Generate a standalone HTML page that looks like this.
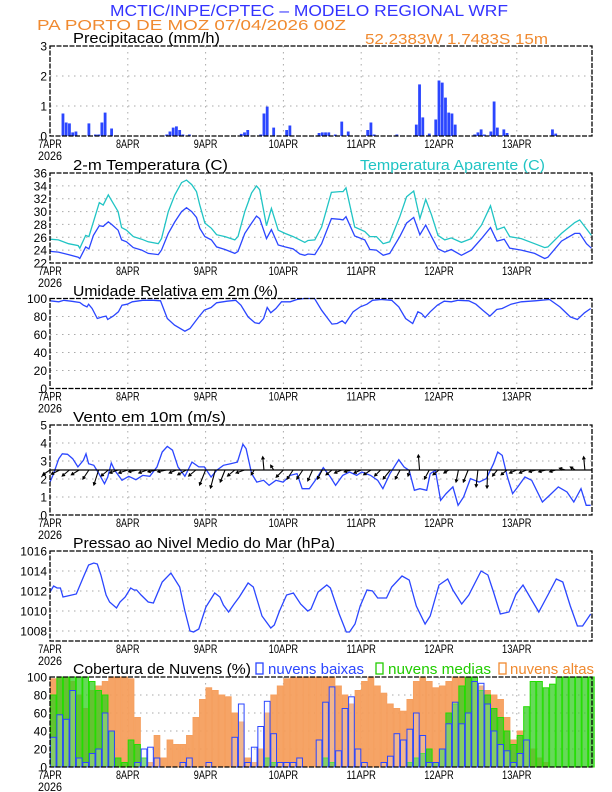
<!DOCTYPE html>
<html><head><meta charset="utf-8"><style>
html,body{margin:0;padding:0;background:#fff;}
svg{display:block;font-family:"Liberation Sans",sans-serif;}
</style></head><body>
<svg id="chart" width="612" height="792" viewBox="0 0 612 792" xmlns="http://www.w3.org/2000/svg">
<text x="110" y="16" textLength="398" lengthAdjust="spacingAndGlyphs" font-size="16" fill="#3333ff">MCTIC/INPE/CPTEC – MODELO REGIONAL WRF</text>
<text x="37" y="30" textLength="309" lengthAdjust="spacingAndGlyphs" font-size="15" fill="#f08a30">PA PORTO DE MOZ    07/04/2026 00Z</text>
<text x="365" y="44" textLength="183" lengthAdjust="spacingAndGlyphs" font-size="15" fill="#f08a30">52.2383W 1.7483S 15m</text>
<g id="g"></g>
</svg>
<script>
// ---- data ----
const dayLabels = ["7APR","8APR","9APR","10APR","11APR","12APR","13APR"];
const precipHours = [4,5,6,7,8,12,14,15,16,17,19,36,37,38,39,40,41,43,59,60,61,65,66,67,69,73,74,83,84,85,86,88,90,92,98,99,100,107,113,114,115,117,119,120,121,122,123,124,125,131,132,133,134,136,137,138,140,141,155,156];
const precipVals  = [0.75,0.45,0.42,0.12,0.15,0.42,0.05,0.05,0.45,0.78,0.25,0.05,0.15,0.28,0.32,0.2,0.05,0.05,0.07,0.12,0.2,0.05,0.75,0.98,0.28,0.2,0.35,0.1,0.12,0.12,0.12,0.05,0.48,0.15,0.2,0.45,0.05,0.05,0.38,1.72,0.62,0.08,0.55,1.85,1.78,1.28,0.78,0.75,0.38,0.05,0.12,0.22,0.05,0.15,1.15,0.28,0.22,0.1,0.22,0.08];
const tempHours = [0,2.6,5.7,8.7,9.2,11,12,13.4,15.2,16.4,18,19,21,22.1,23.6,25.7,28.3,30.3,33.4,34.4,36.5,38.5,40.6,42.1,43.7,45.2,46.2,47.8,49.8,51.4,54,57,58,60.1,62.2,63.7,64.7,66.8,68.3,70.4,72.5,75,77.1,78.6,79.6,81.7,83.8,86.8,89.4,90.4,91.3,94,97.1,98.7,100.7,102.8,104.8,107.9,110,112.2,114.1,115.9,117.7,119.7,121.8,123.8,126.9,130,133.1,135.9,137.9,140.1,141.8,145.4,149.5,152.6,153.6,157.8,161.9,163.4,165.5,167];
const tempVals = [23.8,23.7,23.3,22.9,22.7,24.5,24.2,26.3,27.8,27.7,28.4,28.0,27.1,25.6,25.3,24.4,24.0,23.5,23.3,24.0,26.6,28.4,30.0,30.6,30.0,29.1,27.4,26.1,25.6,24.5,24.1,23.5,23.8,26.6,28.2,29.3,28.9,25.8,27.2,24.8,24.5,24.2,23.4,23.2,23.4,23.3,25.0,28.9,28.8,28.7,29.2,26.2,25.6,24.1,24.0,23.2,23.5,26.1,28.2,29.1,26.4,27.9,26.1,24.2,23.7,24.1,23.2,24.0,25.8,27.5,25.4,25.7,24.3,24.0,23.5,22.7,22.9,25.4,26.6,26.6,25.0,24.3];
const apparentVals = [25.7,25.6,25.0,24.7,24.3,26.3,26.1,28.4,31.4,31.0,32.6,31.7,30.0,27.5,27.1,26.1,25.7,25.3,25.0,25.8,30.0,32.6,34.5,34.9,34.2,33.1,31.0,28.2,27.4,26.4,26.1,25.6,26.1,30.0,32.9,34.0,33.4,27.8,30.5,27.1,26.6,26.1,25.6,25.2,25.5,25.6,27.6,33.0,33.1,33.1,33.7,27.6,26.9,26.1,26.1,25.0,25.3,29.2,32.3,33.2,28.9,31.9,29.5,26.3,25.6,25.9,25.2,25.8,27.9,30.9,27.2,27.6,26.1,25.8,25.0,24.4,24.5,26.6,28.3,28.7,27.3,26.3];
const rhHours = [0,2.7,4.3,6.5,9.2,10.3,11.4,11.9,13,14.6,16.2,17.3,17.8,19.5,21.1,22.2,23.8,25.4,28.6,31.9,34.1,36.2,38.4,41.6,43.2,45.9,47.6,49.7,51.4,54.6,57.3,58.9,61.1,63.2,64.5,65.9,67,68.1,69.7,71.4,74.1,76.2,78.4,81.6,83.8,87,88.6,90.1,91.1,93.5,95.7,97.8,99.5,102.2,105.4,107.6,109.7,111.9,113.5,114.6,115.7,117.3,119.5,121.6,123.8,125.9,129.2,131.4,133.5,135.7,137.8,139.5,142.2,145.4,149.7,154.1,157.3,160.5,162.7,164.9,166.8];
const rhVals = [97.4,96.3,98,97,95.6,92.6,90.7,93.7,88.9,77.8,79.6,80.4,76.7,80.4,85.2,92.6,93.7,96.3,98,98,97.4,77.8,70.4,63.7,66.7,79.6,87,90,95.2,97,98,92.6,79.6,73,72.2,77.8,90,84.1,88.9,96.3,96.3,98.9,100,100,87,71.5,72.2,75.2,72.2,85.2,90.7,93.7,98,98.9,98,90.7,77.8,72.2,85.2,83.3,78.9,85.2,92.6,97,96.3,98,97.4,93.7,87,80.4,87.8,88.9,93.7,96.3,97.4,98.9,90.7,79.6,76.7,84.1,88.9];
const windHours = [0,1.1,2.7,3.8,5.4,7,8.6,10.3,11.1,11.9,13.5,15.1,16.8,17.8,18.9,20,22.2,24.3,26.5,28.6,30.8,33,34.6,36.2,37.8,39.5,41.6,43.8,45.9,47.6,49.7,51.4,53.5,55.7,57.8,59.5,60.5,62.2,63.8,65.9,67.6,69.7,71.9,74.1,76.2,77.8,80,82.2,84.3,86.5,88.1,90.3,92.4,94.6,96.2,98.9,101.1,102.7,104.9,106.5,107.6,109.2,110.8,112.4,114.1,116.2,117.3,118.9,120.5,122.2,124.3,125.9,127.6,129.7,132.4,134.6,136.8,138.1,139.5,141.1,142.7,144.3,146.5,148.6,151.9,154.1,156.8,159.5,161.6,163.8,165.4,166.8];
const windVals = [1.83,2.3,3.13,3.4,3.37,3.13,2.67,3.04,3.4,2.85,2.76,2.3,1.74,2.1,2.89,2.48,1.93,2.15,1.96,2.2,2.15,2.67,3.5,3.81,3.6,2.67,2.15,2.94,2.67,2.67,2.11,2.48,2.76,2.85,2.94,3.93,3.69,2.3,1.83,1.93,1.65,1.93,1.83,2.2,2.3,1.46,1.46,2.02,2.63,2.11,1.65,2.2,2.39,2.2,2.39,2.2,1.93,1.46,2.3,2.76,3.07,2.67,2.48,1.37,1.46,1.37,2.3,2.48,0.81,1.19,1.56,0.54,1.0,2.02,1.83,2.02,2.85,3.5,3.31,2.11,1.19,1.56,2.11,1.93,0.72,1.09,1.56,1.28,0.72,1.46,0.54,0.54];
const vecHours = [0,3,6,9,12,15,18,21,24,27,30,33,36,39,42,45,48,51,54,57,60,63,66,69,72,75,78,81,84,87,90,93,96,99,102,105,108,111,114,117,120,123,126,129,132,135,138,141,144,147,150,153,156,159,162,165];
const vecU = [-1.2,-1.4,-1.2,-1.3,-1,-0.8,-1.2,-1.4,-1.5,-1.5,-1.4,-1.5,-1.5,-1.2,-1.4,-1.2,-1,-0.8,-0.8,-1.2,-1.4,-0.5,-0.2,-0.5,-1.2,-1,-1,-0.8,-0.8,-1,-1.2,-1.2,-1.2,-1.2,-1,-1.2,-0.8,-0.3,-0.2,-0.8,-1,-0.8,-0.4,-0.8,-0.3,-0.1,-0.8,-1,-1.2,-1.2,-1.2,-1.2,-1,-1,-0.8,-0.2];
const vecV = [-0.8,-0.7,-1,-0.8,-1.5,-2.5,-1,-0.5,-0.5,-0.3,-0.5,-0.3,-0.3,-0.5,-0.8,-1,-2.5,-3,-2,-1,-0.5,-0.8,2.2,0.8,-1.2,-1.5,-1.5,-1.8,-1.5,-0.8,-0.5,-0.3,-0.5,-0.8,-1,-1.5,-1.5,-1,2.5,-1.5,-0.8,-0.5,-2,-2,-2.8,-3,-1,-0.8,-0.5,-0.5,-0.3,-0.3,-0.3,0.3,0.5,2.2];
const presHours = [0,1.1,2.2,3.2,4,5.4,8.1,10.3,11.9,13.5,14.6,15.7,17.3,18.4,20.5,21.6,23.2,24.9,25.9,26.7,28.1,30.3,31.9,34.6,37.3,40,41.6,43.2,44.3,45.9,48.1,50.8,52.4,53.5,55.1,56.8,58.4,61.1,62.7,65.4,68.1,69.2,70.8,73,75.1,77.3,79.5,80.5,82.7,85.4,86.5,89.2,91.4,92.4,94.1,95.7,97.8,99.5,101.1,103.8,105.4,108.6,110.8,113,115.7,117.3,120,122.7,124.3,127,129.2,133,135.1,136.8,138.9,141.6,143.8,145.9,148.6,150.8,154.1,156.2,158.2,160.5,162.7,164.3,166.8];
const presVals = [1011.9,1012.5,1012.3,1012.3,1011.4,1011.5,1011.7,1013.4,1014.6,1014.8,1014.7,1013.6,1011.6,1010.9,1010.3,1010.9,1011.4,1012.3,1012.1,1012.1,1011.6,1010.9,1010.8,1012.9,1013.8,1012.4,1010,1008,1007.9,1008.2,1010.4,1011.8,1011.4,1010.6,1009.9,1010.7,1011.4,1012.8,1012.4,1009.5,1008.3,1008.6,1010,1011.6,1011.8,1010.7,1010,1010.2,1011.9,1012.6,1012.3,1009.7,1007.9,1007.9,1008.7,1010.5,1012.1,1012,1011.3,1011.3,1012.4,1013.5,1013.1,1010.5,1008.7,1009.5,1012.6,1013.2,1012.1,1010.7,1011.6,1014,1013.6,1011.9,1009.7,1009.9,1011.7,1012.6,1011.1,1009.9,1011.9,1013.2,1012.9,1010.5,1008.5,1008.5,1009.7];
const cloudHigh = [98,100,100,95,80,65,85,90,95,100,100,100,98,55,0,5,35,10,30,25,25,35,55,75,88,85,80,78,60,50,10,5,20,60,80,90,98,100,100,100,100,100,100,100,90,80,70,85,95,100,90,82,70,65,62,75,95,100,95,88,90,95,100,100,100,95,90,85,80,75,55,30,40,30,20,10,5,0,0,0,0,0,0,0];
const cloudMid = [80,100,100,100,100,100,95,85,80,40,10,5,30,25,10,0,0,0,0,0,0,0,0,0,0,0,0,0,0,0,0,0,0,10,5,0,0,0,0,0,0,0,10,5,0,0,0,0,0,0,0,0,0,0,0,5,10,15,20,5,20,60,70,90,100,100,85,80,65,55,40,25,35,67,95,95,88,92,100,100,100,100,100,100];
const cloudLow = [33,58,53,85,10,5,15,20,60,40,0,0,0,5,20,22,10,0,0,0,5,10,0,0,5,0,0,0,33,70,5,22,45,73,37,5,5,5,10,0,0,30,72,89,18,65,78,20,5,0,0,5,12,37,30,42,60,35,5,5,20,48,72,48,60,95,93,70,40,25,18,5,15,30,0,0,0,0,0,0,0,0,0,0];

// ---- layout ----
const L=50, R=592, PH=90;
const tops=[46,173,298.5,425,551,677];
const x = h => L + h*(R-L)/167.2;
const NS="http://www.w3.org/2000/svg";
const G=document.getElementById('g');
function mk(tag, at, parent){const e=document.createElementNS(NS,tag);for(const k in at)e.setAttribute(k,at[k]);(parent||G).appendChild(e);return e;}
function lin(min,max,top){return v=>top+PH-(v-min)/(max-min)*PH;}

const panels=[
 {name:'precip',min:0,max:3,ticks:[0,1,2,3]},
 {name:'temperature',min:22,max:36,ticks:[22,24,26,28,30,32,34,36]},
 {name:'humidity',min:0,max:100,ticks:[0,20,40,60,80,100]},
 {name:'wind',min:0,max:5,ticks:[0,1,2,3,4,5]},
 {name:'pressure',min:1007,max:1016,ticks:[1008,1010,1012,1014,1016]},
 {name:'clouds',min:0,max:100,ticks:[0,20,40,60,80,100]}
];
const Y=[];
panels.forEach((p,i)=>{
  const t=tops[i]; const y=lin(p.min,p.max,t); Y.push(y);
  const g=mk('g',{});
  
  
  p.ticks.forEach(v=>{
    if(v>p.min && v<p.max){const gl=mk('line',{x1:L,x2:R,y1:y(v),y2:y(v),stroke:'#aaa','stroke-width':1,'stroke-dasharray':'1.5,4.5'},g);
      
      }
    const tl=mk('text',{x:L-3,y:y(v)+4.5,'text-anchor':'end','font-size':12,fill:'#000'},g);
    
    
    tl.textContent=v;
  });
  for(let d=1;d<7;d++){const gl=mk('line',{x1:x(d*24),x2:x(d*24),y1:t,y2:t+PH,stroke:'#aaa','stroke-width':1,'stroke-dasharray':'1.5,4.5'},g);
    
    }
  dayLabels.forEach((lab,d)=>{
    const tx=mk('text',{x:x(d*24),y:t+PH+12,'text-anchor':'middle','font-size':12,fill:'#000',textLength:lab.length*5.9,lengthAdjust:'spacingAndGlyphs'},g);
    
    
    tx.textContent=lab;
  });
  const yr=mk('text',{x:38,y:t+PH+24,'font-size':12,fill:'#000',textLength:24,lengthAdjust:'spacingAndGlyphs'},g);
  
  
  yr.textContent='2026';
  p.g=g;
});

// precipitation
precipHours.forEach((h,i)=>{
  const y=Y[0]; const b=mk('rect',{x:x(h)-1.4,y:y(precipVals[i]),width:2.8,height:y(0)-y(precipVals[i]),fill:'#2b46ff'});
  
  
});
function line(hs,vs,y,col,name){
  const d=hs.map((h,i)=>(i?'L':'M')+x(h).toFixed(1)+','+y(vs[i]).toFixed(1)).join('');
  const p=mk('path',{d:d,fill:'none',stroke:col,'stroke-width':1.3});
  
  
}
line(tempHours,apparentVals,Y[1],'#20c4c4','apparent-temperature-line');
line(tempHours,tempVals,Y[1],'#2b46ff','temperature-line');
line(rhHours,rhVals,Y[2],'#2b46ff','humidity-line');
line(windHours,windVals,Y[3],'#2b46ff','wind-speed-line');
// wind vectors
vecHours.forEach((h,i)=>{
  const x0=x(h), y0=Y[3](2.5), k=6;
  const x1=x0+vecU[i]*k, y1=y0-vecV[i]*k;
  const a=Math.atan2(y1-y0,x1-x0);
  const ax1=x1-3*Math.cos(a-0.5), ay1=y1-3*Math.sin(a-0.5), ax2=x1-3*Math.cos(a+0.5), ay2=y1-3*Math.sin(a+0.5);
  const v=mk('path',{d:`M${x0},${y0}L${x1},${y1}M${ax1},${ay1}L${x1},${y1}L${ax2},${ay2}`,stroke:'#000','stroke-width':1.1,fill:'none'});
  
  
});
const wb=mk('line',{x1:L,x2:R,y1:Y[3](2.5),y2:Y[3](2.5),stroke:'#000','stroke-width':1.2});


line(presHours,presVals,Y[4],'#2b46ff','pressure-line');
// clouds
function bars(vals,fill,stroke,op,name){
  vals.forEach((v,i)=>{
    if(v<=0) return;
    const h=i*2, y=Y[5];
    const b=mk('rect',{x:x(h)+0.4,y:y(v),width:x(2)-x(0)-0.8,height:y(0)-y(v),fill:fill,'fill-opacity':op,stroke:stroke,'stroke-width':1});
    
    
  });
}
bars(cloudHigh,'#f59a55','#f5a060',0.9,'high-cloud-bar');
bars(cloudMid,'#33cc22','#22dd00',0.75,'mid-cloud-bar');
bars(cloudLow,'#e8ecff','#2b46ff',0.25,'low-cloud-bar');

// frames
tops.forEach((t,i)=>{
  const f=mk('rect',{x:L,y:t,width:R-L,height:PH,fill:'none',stroke:'#000','stroke-width':1.3,'stroke-dasharray':'5,1.5'});
  
  
});
// titles
const titles=[
 ['precip-title','Precipitacao (mm/h)',73,43,147,'#000'],
 ['temperature-title','2-m Temperatura (C)',73,170,155,'#000'],
 ['apparent-temperature-title','Temperatura Aparente (C)',360,170,185,'#20c4c4'],
 ['humidity-title','Umidade Relativa em 2m (%)',73,296,205,'#000'],
 ['wind-title','Vento em 10m (m/s)',73,422,153,'#000'],
 ['pressure-title','Pressao ao Nivel Medio do Mar (hPa)',73,548,262,'#000'],
 ['cloud-title','Cobertura de Nuvens (%)',73,674,178,'#000'],
 ['legend-low-clouds','nuvens baixas',268,674,96,'#2b46ff'],
 ['legend-mid-clouds','nuvens medias',388,674,103,'#22cc00'],
 ['legend-high-clouds','nuvens altas',510,674,84,'#f08a30']
];
titles.forEach(t=>{
  const e=mk('text',{x:t[2],y:t[3],'font-size':15,fill:t[5],textLength:t[4],lengthAdjust:'spacingAndGlyphs'});
  
  
  e.textContent=t[1];
});
[['legend-low-swatch',256,'#2b46ff'],['legend-mid-swatch',376,'#22cc00'],['legend-high-swatch',499,'#f08a30']].forEach(s=>{
  const r=mk('rect',{x:s[1],y:663,width:7,height:11,fill:'none',stroke:s[2],'stroke-width':1.3});
  
  
});
</script>
</body></html>
